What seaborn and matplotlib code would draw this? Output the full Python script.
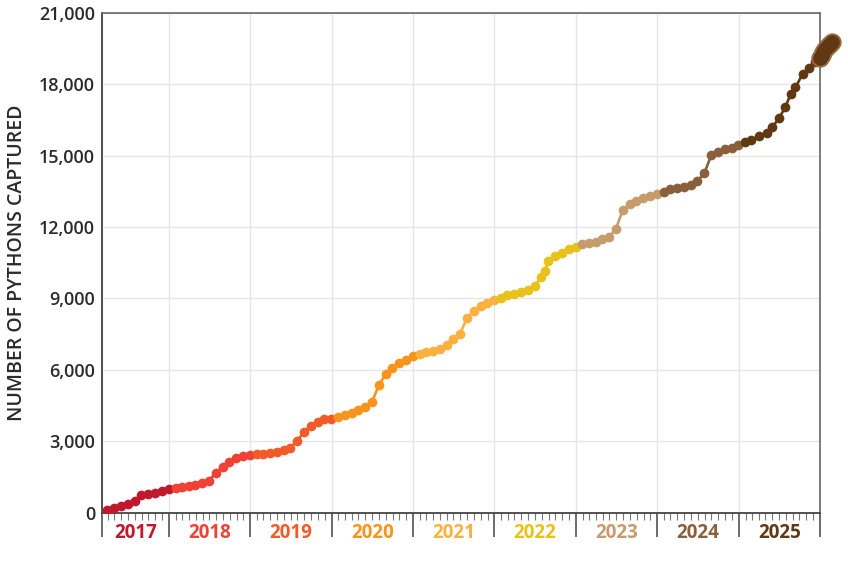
import numpy as np
import pandas as pd
import matplotlib
matplotlib.use("Agg")
import matplotlib.pyplot as plt
import matplotlib.dates as mdates
from matplotlib.ticker import FuncFormatter, FixedLocator
import seaborn as sns

# ---------------- data ----------------
years = ["2017", "2018", "2019", "2020", "2021", "2022", "2023", "2024", "2025"]
year_colors = ["#C0192E", "#EF4136", "#F15A29", "#F7941D", "#FBB040",
               "#E8C21A", "#C69C6D", "#8B5E3C", "#603913"]

v2017 = [100, 200, 285, 345, 500, 730, 775, 820, 900, 985]
v2018 = [1045, 1085, 1120, 1175, 1250, 1345, 1673, 1925, 2120, 2290, 2365, 2420]
v2019 = [2470, 2475, 2500, 2555, 2625, 2725, 3020, 3385, 3635, 3805, 3915, 3945]
v2020 = [4030, 4090, 4170, 4310, 4420, 4640, 5345, 5820, 6060, 6290, 6410, 6560]
v2021 = [6680, 6750, 6780, 6860, 7040, 7280, 7520, 8180, 8470, 8695, 8820, 8920]
v2022 = [9030, 9130, 9200, 9260, 9340, 9535, 9900, 10165, 10575, 10785, 10925, 11075, 11175]
v2023 = [11290, 11315, 11385, 11485, 11595, 11920, 12715, 12970, 13110, 13210, 13305, 13390]
v2024 = [13485, 13590, 13655, 13670, 13770, 13950, 14260, 15030, 15170, 15270, 15335, 15435]
v2025 = [15560, 15675, 15810, 15955, 16195, 16570, 17060, 17580, 17875, 18435, 18700, 18950]

d2017 = pd.date_range("2017-03-31", "2017-12-31", freq="ME")
d2018 = pd.date_range("2018-01-31", "2018-12-31", freq="ME")
d2019 = pd.date_range("2019-01-31", "2019-12-31", freq="ME")
d2020 = pd.date_range("2020-01-31", "2020-12-31", freq="ME")
d2021 = pd.date_range("2021-01-31", "2021-12-31", freq="ME")
d2022 = pd.to_datetime(["2022-01-31", "2022-02-28", "2022-03-31", "2022-04-30",
                        "2022-05-31", "2022-06-30", "2022-07-31", "2022-08-15",
                        "2022-08-31", "2022-09-30", "2022-10-31", "2022-11-30",
                        "2022-12-31"])
d2023 = pd.date_range("2023-01-31", "2023-12-31", freq="ME")
d2024 = pd.date_range("2024-01-31", "2024-12-31", freq="ME")
d2025 = pd.to_datetime(["2025-01-28", "2025-02-27", "2025-04-01", "2025-05-08",
                        "2025-05-31", "2025-07-01", "2025-07-30", "2025-08-22",
                        "2025-09-13", "2025-10-15", "2025-11-13", "2025-12-09"])

# dense cluster of latest counts drawn past the right edge
cluster_dates = pd.to_datetime(["2025-12-31", "2026-01-08", "2026-01-16", "2026-01-24",
                                "2026-02-01", "2026-02-09", "2026-02-17", "2026-02-25"])
cluster_vals = [19100, 19250, 19380, 19480, 19560, 19640, 19700, 19760]

x_start = pd.Timestamp("2017-03-07")
x_end = pd.Timestamp("2026-01-01")

# ---------------- build table ----------------
all_vals = [v2017, v2018, v2019, v2020, v2021, v2022, v2023, v2024, v2025]
all_dates = [d2017, d2018, d2019, d2020, d2021, d2022, d2023, d2024, d2025]
frames = []
for y, d, v in zip(years, all_dates, all_vals):
    frames.append(pd.DataFrame({"date": d, "value": v, "year": y}))
df = pd.concat(frames, ignore_index=True)
cl = pd.DataFrame({"date": cluster_dates, "value": cluster_vals})

# ---------------- style ----------------
sns.set_theme(style="white")
plt.rcParams["font.family"] = ["Open Sans", "DejaVu Sans"]

fig = plt.figure(figsize=(8.48, 5.69), dpi=100)
ax = fig.add_axes([102 / 848, 56.5 / 569, 718 / 848, 499.5 / 569])

palette = dict(zip(years, year_colors))
sns.lineplot(data=df, x="date", y="value", hue="year", palette=palette,
             marker="o", markersize=7.0, markeredgewidth=0, linewidth=1.9,
             legend=False, ax=ax, zorder=3)

# connectors between year segments
for i in range(len(years) - 1):
    a = frames[i].iloc[-1]
    b = frames[i + 1].iloc[0]
    ax.plot([a["date"], b["date"]], [a["value"], b["value"]],
            color=year_colors[i + 1], lw=1.9, zorder=2)

# cluster at the end: outlined blob of overlapping points
ax.plot([frames[-1]["date"].iloc[-1], cl["date"].iloc[0]],
        [frames[-1]["value"].iloc[-1], cl["value"].iloc[0]],
        color=year_colors[-1], lw=1.9, zorder=2, clip_on=False)
sns.scatterplot(data=cl, x="date", y="value", s=175, color="#9A6A45",
                linewidth=0, ax=ax, zorder=4, clip_on=False, legend=False)
ax.plot(cl["date"], cl["value"], color=year_colors[-1], lw=7, zorder=5,
        clip_on=False, solid_capstyle="round")
sns.scatterplot(data=cl, x="date", y="value", s=110, color=year_colors[-1],
                linewidth=0, ax=ax, zorder=6, clip_on=False, legend=False)

# ---------------- axes ----------------
ax.set_xlim(x_start, x_end)
ax.set_ylim(0, 21000)

major_x = [x_start] + [pd.Timestamp(f"{y}-01-01") for y in range(2018, 2027)]
ax.xaxis.set_major_locator(FixedLocator(mdates.date2num(major_x)))
ax.xaxis.set_minor_locator(mdates.MonthLocator())
ax.xaxis.set_major_formatter(plt.NullFormatter())
ax.tick_params(axis="x", which="major", length=17, width=1.1, color="#444444",
               direction="out", bottom=True)
ax.tick_params(axis="x", which="minor", length=4.8, width=0.8, color="#777777",
               direction="out", bottom=True)

ax.set_yticks(np.arange(0, 21001, 3000))
ax.yaxis.set_major_formatter(FuncFormatter(lambda v, p: f"{int(v):,}"))
ax.tick_params(axis="y", length=0, pad=5, labelsize=13, labelcolor="#2b2b2b")
for lbl in ax.get_yticklabels():
    lbl.set_fontweight("semibold")

ax.grid(True, axis="both", color="#e6e6e6", lw=1.0, zorder=0)
ax.set_axisbelow(True)

for side in ["top", "right"]:
    ax.spines[side].set_color("#666666")
    ax.spines[side].set_linewidth(1.2)
for side in ["left", "bottom"]:
    ax.spines[side].set_color("#444444")
    ax.spines[side].set_linewidth(1.3)

ax.set_xlabel("")
ax.set_ylabel("NUMBER OF PYTHONS CAPTURED", fontsize=14, fontweight="semibold",
              color="#2b2b2b", labelpad=9)

# year labels centred in each year span
bounds = major_x
for i, y in enumerate(years):
    left = mdates.date2num(bounds[i])
    right = mdates.date2num(bounds[i + 1])
    ax.text((left + right) / 2, -0.041, y, transform=ax.get_xaxis_transform(),
            ha="center", va="center", fontsize=13.5, fontweight="bold",
            color=year_colors[i])

fig.savefig("out.png", dpi=100)
